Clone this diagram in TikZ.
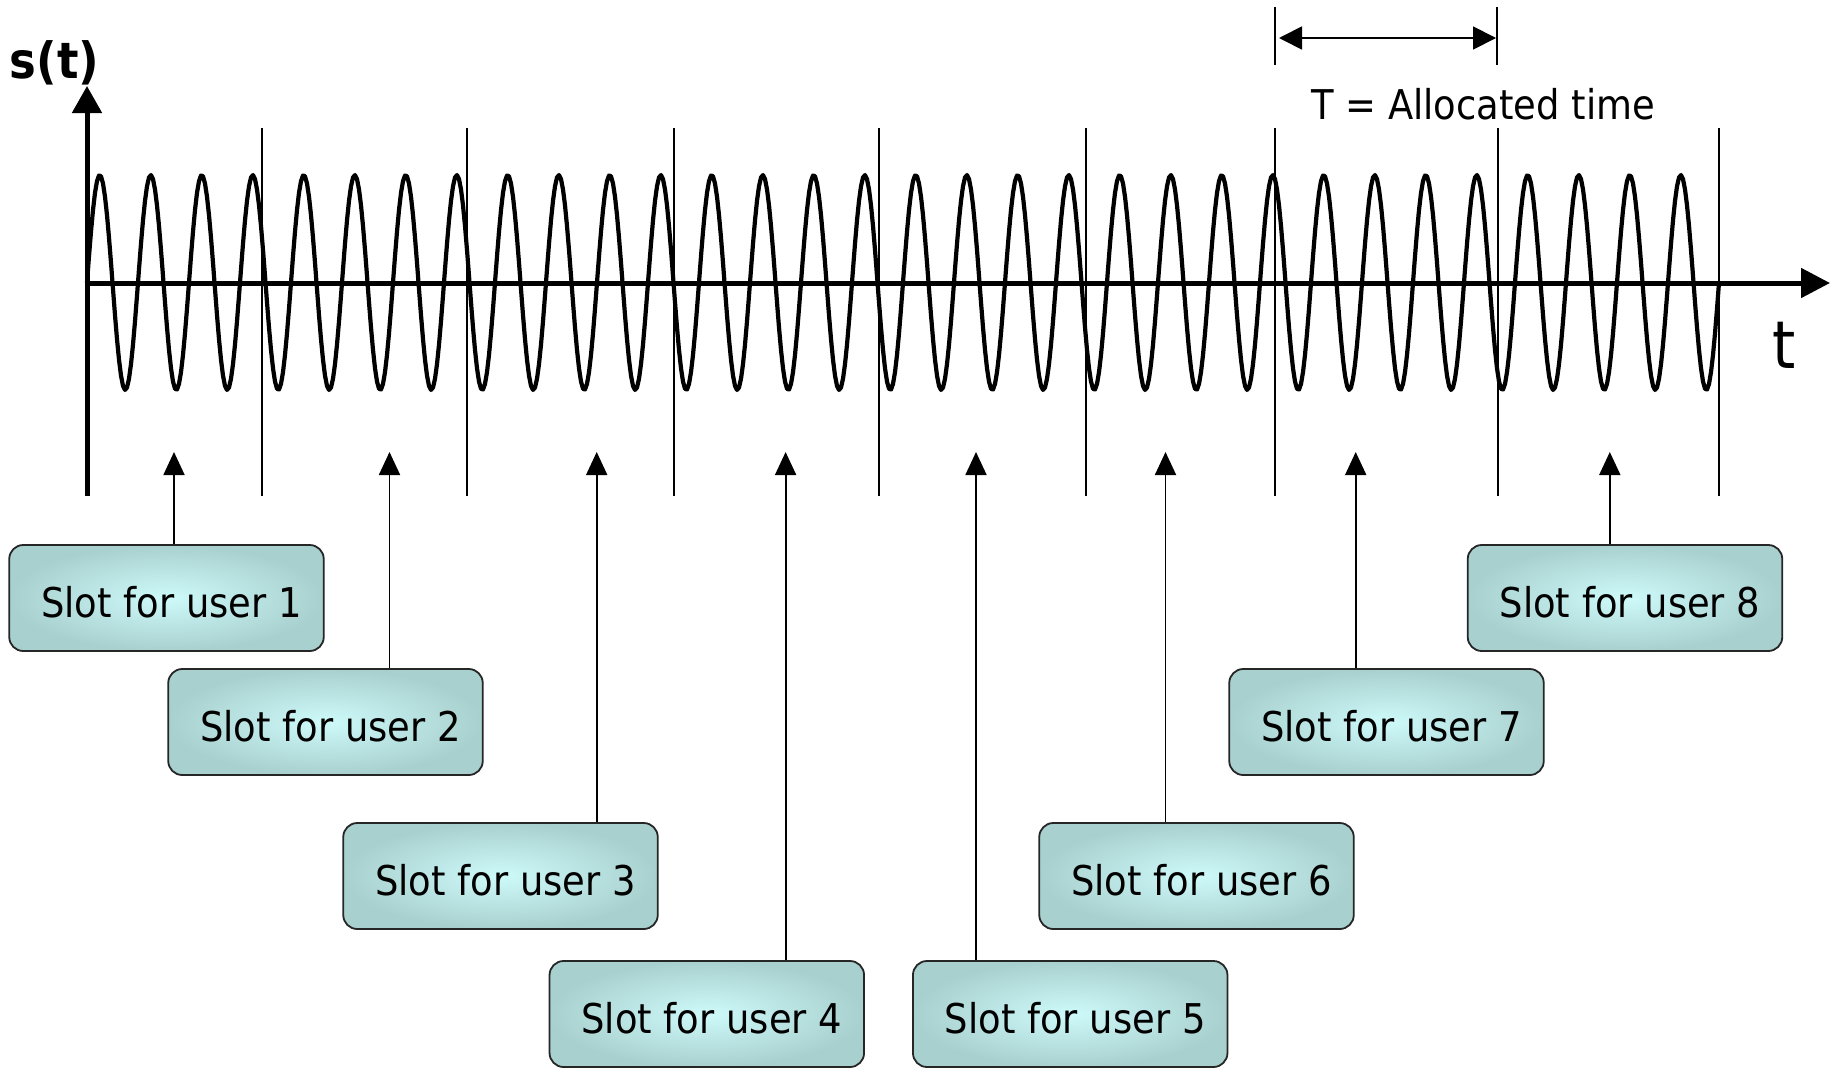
\documentclass[tikz,border=0pt]{standalone}
\usepackage{fontspec}
\setmainfont{DejaVu Sans}[FakeStretch=0.9]
\usetikzlibrary{arrows.meta,calc}
\definecolor{boxedge}{RGB}{168,208,206}
\definecolor{boxmid}{RGB}{206,250,250}
\tikzset{
  axisline/.style={line width=5pt},
  thinline/.style={line width=1.8pt},
  uparrow/.style={line width=1.8pt,-{Triangle[length=23pt,width=21pt]}},
  wave/.style={line width=4.2pt,line join=round},
  slotbox/.style={draw=black!85,line width=1.8pt,rounded corners=14pt,
    minimum width=314.5pt,minimum height=106pt,inner sep=0pt,
    inner color=boxmid,outer color=boxedge,
    font=\fontsize{41}{48}\selectfont,text height=38pt,text depth=0pt},
  lbl/.style={anchor=base west,inner sep=0pt},
}
\begin{document}
\begin{tikzpicture}[x=1pt,y=-1pt]
\useasboundingbox (0,0) rectangle (1831,1068);
% slot dividers
\foreach \d in {261.6,467.1,673.8,879.3,1086,1275.2,1497.8,1719}{
  \draw[thinline] (\d,128) -- (\d,496);
}
% signal
\draw[wave] plot[domain=0:1632,samples=817] ({87+\x},{282.5-107.5*sin(\x*7.058824)});
% axes
\coordinate (ybot) at (87,496);
\coordinate (ytop) at (87,86);
\coordinate (xl) at (85,283);
\coordinate (xr) at (1830,283);
\draw[axisline,-{Triangle[length=27pt,width=29pt]}] (ybot) -- (ytop);
\draw[axisline,-{Triangle[length=29pt,width=29pt]}] (xl) -- (xr);
% labels
\node[lbl,font=\bfseries\fontsize{50}{54}\selectfont] (st) at (9.5,78) {s(t)};
\node[lbl,font=\fontsize{66}{70}\selectfont] (tl) at (1772,368) {t};
\node[lbl,font=\fontsize{41}{48}\selectfont] (Tl) at (1311,119.5) {T = Allocated time};
% allocated time dimension
\coordinate (dl) at (1279,38);
\coordinate (dr) at (1496,38);
\draw[thinline] (1275.2,7) -- (1275.2,65);
\draw[thinline] (1497,7) -- (1497,65);
\draw[thinline,{Triangle[length=23pt,width=23pt]}-{Triangle[length=23pt,width=23pt]}] (dl) -- (dr);
% boxes
\node[slotbox] (b1) at (166.5,598) {\hspace*{10pt}Slot for user 1};
\node[slotbox] (b2) at (325.5,722) {\hspace*{10pt}Slot for user 2};
\node[slotbox] (b3) at (500.5,876) {\hspace*{10pt}Slot for user 3};
\node[slotbox] (b4) at (706.8,1014) {\hspace*{10pt}Slot for user 4};
\node[slotbox] (b5) at (1070.2,1014) {\hspace*{10pt}Slot for user 5};
\node[slotbox] (b6) at (1196.5,876) {\hspace*{10pt}Slot for user 6};
\node[slotbox] (b7) at (1386.5,722) {\hspace*{10pt}Slot for user 7};
\node[slotbox] (b8) at (1625,598) {\hspace*{10pt}Slot for user 8};
% arrows
\foreach \i/\x in {1/174,2/389.5,3/596.7,4/785.6,5/976,6/1165.5,7/1355.7,8/1609.8}{
  \coordinate (a\i) at (\x,452);
  \draw[uparrow] (a\i |- b\i.north) -- (a\i);
}
\end{tikzpicture}
\end{document}
